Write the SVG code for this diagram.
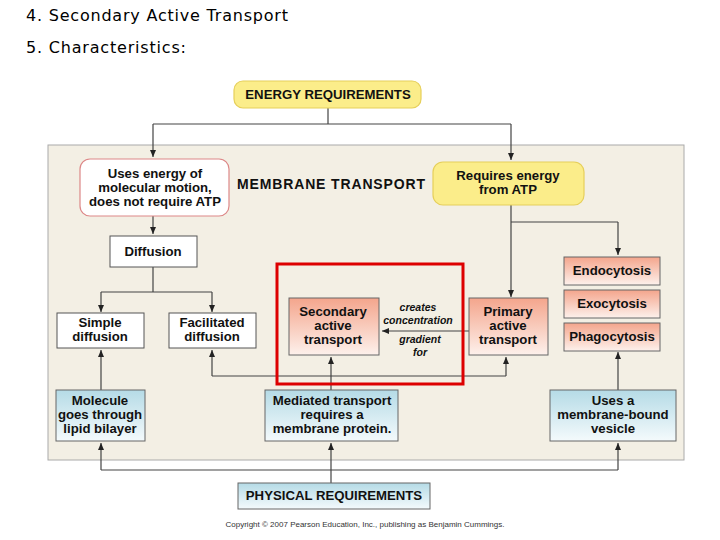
<svg xmlns="http://www.w3.org/2000/svg" width="720" height="540" viewBox="0 0 720 540">
<defs>
<linearGradient id="pk" x1="0" y1="0" x2="0" y2="1"><stop offset="0" stop-color="#f4a58c"/><stop offset="1" stop-color="#fdf1ec"/></linearGradient>
<linearGradient id="bl" x1="0" y1="0" x2="0" y2="1"><stop offset="0" stop-color="#b5dbe6"/><stop offset="1" stop-color="#f4fafc"/></linearGradient>
<marker id="ah" markerWidth="8" markerHeight="8" refX="7" refY="4" orient="auto" markerUnits="userSpaceOnUse"><path d="M0,1 L7,4 L0,7 Z" fill="#222"/></marker>
<style>
.h{font-family:"DejaVu Sans",sans-serif;font-size:16px;fill:#000}
.t{font-family:"Liberation Sans",Arial,sans-serif;font-weight:bold;font-size:13.2px;fill:#111;text-anchor:middle}
.i{font-family:"Liberation Sans",Arial,sans-serif;font-weight:bold;font-style:italic;font-size:10.5px;fill:#111;text-anchor:middle}
.c{fill:none;stroke:#444;stroke-width:1.2}
.a{marker-end:url(#ah)}
.w{fill:#fff;stroke:#555;stroke-width:1}
.p{fill:url(#pk);stroke:#666;stroke-width:1}
.b{fill:url(#bl);stroke:#666;stroke-width:1}
.y{fill:#fbed8a;stroke:#e6cf5a;stroke-width:1.2}
</style>
</defs>
<rect width="720" height="540" fill="#fff"/>
<text class="h" x="26" y="21" textLength="262">4.  Secondary Active Transport</text>
<text class="h" x="26" y="53" textLength="160">5.  Characteristics:</text>
<rect x="48" y="145" width="636" height="315" fill="#f3efe4" stroke="#aaa"/>
<g id="connectors">
<path class="c" d="M328,108 V124 M153,124 H511"/>
<path class="c a" d="M153,124 V157"/>
<path class="c a" d="M511,124 V160"/>
<path class="c a" d="M153,216 V234"/>
<path class="c" d="M153,267 V292" stroke="#aaa"/>
<path class="c" d="M101,292 H212"/>
<path class="c a" d="M101,292 V312"/>
<path class="c a" d="M212,292 V312"/>
<path class="c a" d="M511,205 V297"/>
<path class="c" d="M511,222 H618"/>
<path class="c a" d="M618,222 V255"/>
<path class="c a" d="M469,331 H382"/>
<path class="c" d="M212,376 H506"/>
<path class="c a" d="M212,376 V350"/>
<path class="c a" d="M506,376 V357"/>
<path class="c a" d="M331,390 V357"/>
<path class="c a" d="M101,390 V350"/>
<path class="c a" d="M618,390 V352"/>
<path class="c" d="M101,470 H618"/>
<path class="c a" d="M101,470 V443"/>
<path class="c a" d="M618,470 V443"/>
<path class="c a" d="M331,483 V443"/>
</g>
<g id="energy"><rect class="y" x="234" y="81" width="187" height="27" rx="9"/><text class="t" x="328" y="99">ENERGY REQUIREMENTS</text></g>
<g id="title"><text class="t" x="331" y="189" style="font-size:14px" textLength="188">MEMBRANE TRANSPORT</text></g>
<g id="usesEnergy"><rect x="80" y="159" width="149" height="57" rx="10" fill="#fff" stroke="#d88" stroke-width="1.2"/><text class="t" x="155" y="178">Uses energy of</text><text class="t" x="155" y="192">molecular motion,</text><text class="t" x="155" y="206">does not require ATP</text></g>
<g id="requiresATP"><rect class="y" x="433" y="162" width="151" height="43" rx="10"/><text class="t" x="508" y="180">Requires energy</text><text class="t" x="508" y="194">from ATP</text></g>
<g id="diffusion"><rect class="w" x="110" y="236" width="87" height="31"/><text class="t" x="153" y="256">Diffusion</text></g>
<g id="simple"><rect class="w" x="57" y="313" width="87" height="35"/><text class="t" x="100" y="327">Simple</text><text class="t" x="100" y="341">diffusion</text></g>
<g id="facilitated"><rect class="w" x="169" y="313" width="87" height="35"/><text class="t" x="212" y="327">Facilitated</text><text class="t" x="212" y="341">diffusion</text></g>
<g id="secondary"><rect class="p" x="289" y="298" width="90" height="57"/><text class="t" x="333" y="316">Secondary</text><text class="t" x="333" y="330">active</text><text class="t" x="333" y="344">transport</text></g>
<g id="gradientLabel"><text class="i" x="418" y="311">creates</text><text class="i" x="418" y="324">concentration</text><text class="i" x="420" y="343">gradient</text><text class="i" x="420" y="356">for</text></g>
<g id="primary"><rect class="p" x="469" y="298" width="79" height="57"/><text class="t" x="508" y="316">Primary</text><text class="t" x="508" y="330">active</text><text class="t" x="508" y="344">transport</text></g>
<g id="endocytosis"><rect class="p" x="564" y="257" width="96" height="28"/><text class="t" x="612" y="275">Endocytosis</text></g>
<g id="exocytosis"><rect class="p" x="564" y="290" width="96" height="28"/><text class="t" x="612" y="308">Exocytosis</text></g>
<g id="phagocytosis"><rect class="p" x="564" y="323" width="96" height="28"/><text class="t" x="612" y="341">Phagocytosis</text></g>
<g id="highlight"><rect x="277" y="264" width="186" height="120" fill="none" stroke="#d00" stroke-width="3"/></g>
<g id="molecule"><rect class="b" x="56" y="390" width="89" height="51"/><text class="t" x="100" y="405">Molecule</text><text class="t" x="100" y="419">goes through</text><text class="t" x="100" y="433">lipid bilayer</text></g>
<g id="mediated"><rect class="b" x="265" y="390" width="133" height="51"/><text class="t" x="332" y="405">Mediated transport</text><text class="t" x="332" y="419">requires a</text><text class="t" x="332" y="433">membrane protein.</text></g>
<g id="vesicle"><rect class="b" x="550" y="390" width="126" height="51"/><text class="t" x="613" y="405">Uses a</text><text class="t" x="613" y="419">membrane-bound</text><text class="t" x="613" y="433">vesicle</text></g>
<g id="physical"><rect class="b" x="238" y="483" width="192" height="26"/><text class="t" x="334" y="500">PHYSICAL REQUIREMENTS</text></g>
<text x="365" y="527" font-family="Liberation Sans,Arial,sans-serif" font-size="8" fill="#333" text-anchor="middle">Copyright © 2007 Pearson Education, Inc., publishing as Benjamin Cummings.</text>
</svg>
